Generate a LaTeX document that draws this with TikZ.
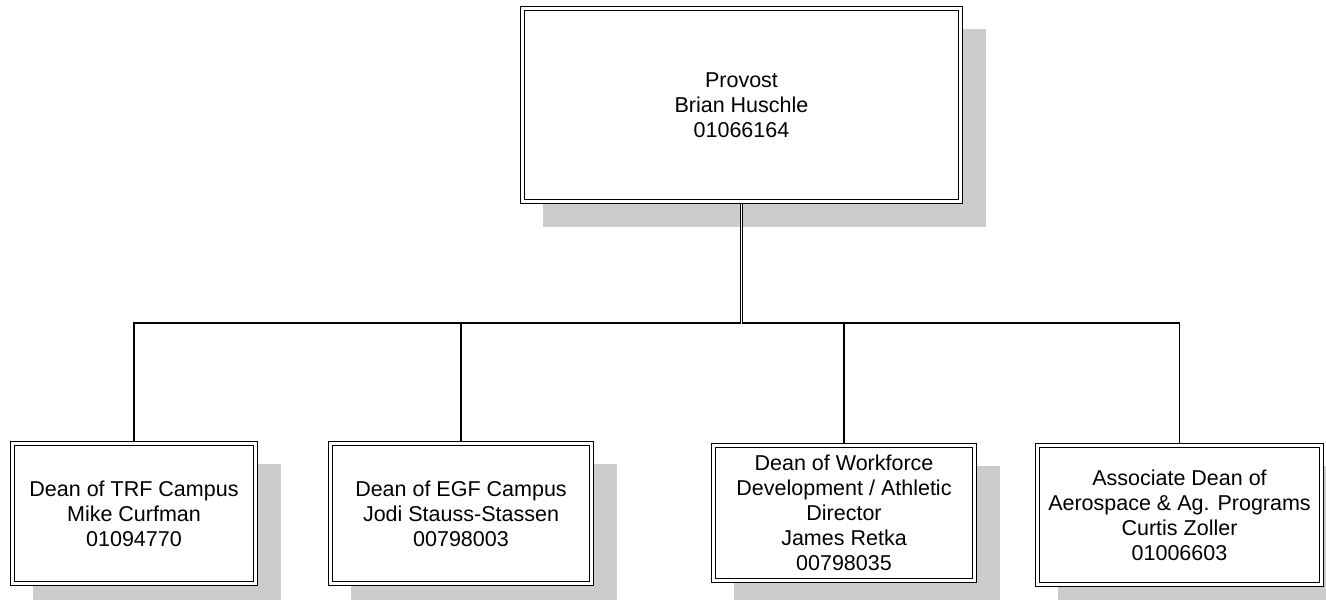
\documentclass[tikz,border=0pt]{standalone}
\usepackage{fontspec}
\setmainfont{Liberation Sans}
\usepackage{xcolor}
\usepackage{tikz}
\usetikzlibrary{shadows}
\usetikzlibrary{positioning}
\definecolor{shadowgray}{RGB}{204,204,204}

\begin{document}
\begin{tikzpicture}[x=1pt, y=-1pt]

        \def\busy{323}

        % Boxes of the chart: double border, flat grey shadow
        % shifted down and to the right
        \tikzset{orgbox/.style={draw, double, line width=1.1pt,
            double distance=2.4pt, fill=white, inner sep=0pt,
            align=center, font=\fontsize{21.5}{25}\selectfont,
            drop shadow={shadow xshift=23pt, shadow yshift=-23pt,
            fill=shadowgray, draw=shadowgray, line width=4.6pt,
            opacity=1}},
            link/.style={line width=1.2pt}}

        \useasboundingbox (0, 0) rectangle (1326, 600);

        \node[orgbox, minimum width=438pt, minimum height=193pt]
            (P) at (741.5, 105) {Provost\\Brian Huschle\\01066164};

        \node[orgbox, minimum width=243pt, minimum height=140pt]
            (D1) at (134, 513.5)
            {Dean of TRF Campus\\Mike Curfman\\01094770};
        \node[orgbox, minimum width=261pt, minimum height=140pt]
            (D2) at (461, 513.5)
            {Dean of EGF Campus\\Jodi Stauss-Stassen\\00798003};
        \node[orgbox, minimum width=261pt, minimum height=135pt]
            (D3) at (844, 513)
            {Dean of Workforce\\Development / Athletic\\Director\\James Retka\\00798035};
        \node[orgbox, minimum width=284pt, minimum height=139pt]
            (D4) at (1179.5, 515)
            {Associate Dean of\\Aerospace \& Ag. Programs\\Curtis Zoller\\01006603};

        \coordinate (bus) at (0, \busy);

        \begin{scope}[link]
            \draw[shorten <=2.2pt, shorten >=2.2pt]
            (D1.north) |- (D4.north |- bus) -- (D4.north);
            \foreach\x in {2, 3}
            \draw[shorten >=2.2pt] (D\x.north |- bus) -- (D\x.north);

            \draw[double, line width=0.9pt, double distance=1.6pt,
            shorten <=2.2pt, shorten >=-0.7pt] (P.south) -- (P.south |- bus);
        \end{scope}

\end{tikzpicture}
\end{document}
